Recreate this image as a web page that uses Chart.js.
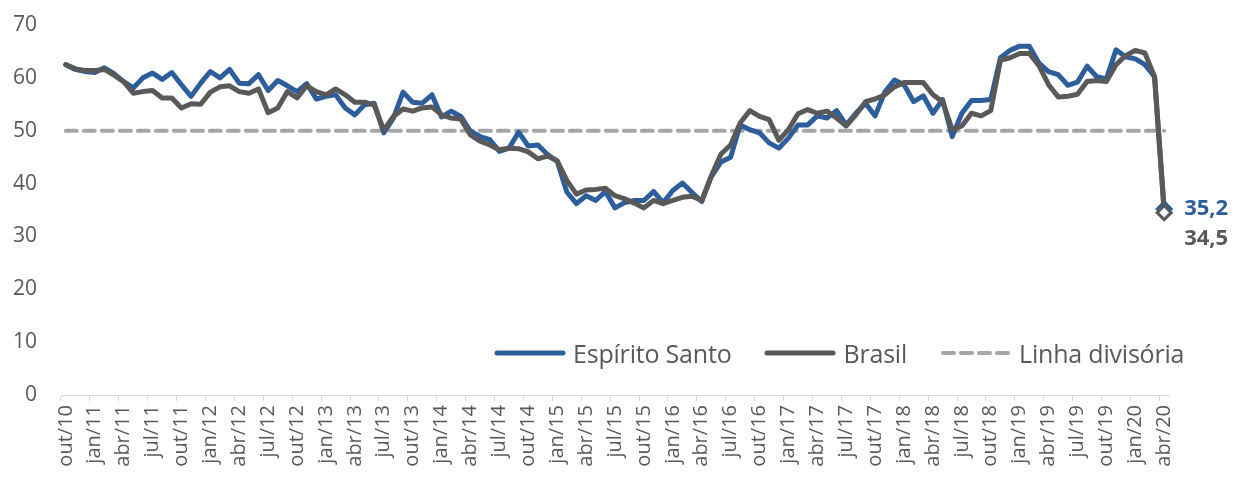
<!DOCTYPE html>
<html>
<head>
<meta charset="utf-8">
<script src="https://cdn.jsdelivr.net/npm/chart.js@4"></script>
<style>
  body { margin: 0; background: #fff; font-family: "Open Sans", sans-serif; }
  #wrap { position: relative; width: 1235px; height: 480px; }
  #legend { position: absolute; left: 494px; top: 336px; display: flex; align-items: center; color: #595959; font-size: 25px; white-space: nowrap; letter-spacing: -0.2px; }
  #legend .item { display: flex; align-items: center; margin-right: 33px; }
  #legend svg { margin-right: 7px; }
</style>
</head>
<body>
<div id="wrap">
  <canvas id="c" width="1235" height="480"></canvas>
  <div id="legend"></div>
</div>
<script>
// meses out/10 .. abr/20
const monthNames = ['jan','fev','mar','abr','mai','jun','jul','ago','set','out','nov','dez'];
const labels = [];
for (let y = 2010, m = 9; y < 2020 || m <= 3; ) {
  labels.push(monthNames[m] + '/' + String(y).slice(2));
  m++; if (m == 12) { m = 0; y++; }
}

const espiritoSanto = [
  62.5, 61.6, 61.2, 61.0, 61.9, 60.8, 59.3, 58.1, 60.0, 60.9, 59.7, 61.0,
  58.7, 56.5, 59.0, 61.2, 60.0, 61.6, 59.0, 58.9, 60.6, 57.6, 59.5, 58.5,
  57.4, 58.9, 56.0, 56.5, 56.8, 54.3, 53.0, 54.9, 55.2, 49.6, 52.4, 57.3,
  55.4, 55.2, 56.8, 52.6, 53.7, 52.7, 49.9, 48.9, 48.3, 46.1, 46.7, 49.7,
  47.1, 47.3, 45.5, 44.2, 38.4, 36.2, 37.7, 36.8, 38.5, 35.4, 36.4, 36.8,
  36.8, 38.5, 36.4, 38.7, 40.1, 38.3, 36.6, 41.3, 44.1, 45.0, 51.1, 50.2,
  49.6, 47.7, 46.7, 48.6, 51.1, 51.1, 52.8, 52.4, 53.8, 51.1, 53.3, 55.2,
  52.8, 57.3, 59.6, 58.7, 55.5, 56.6, 53.3, 55.9, 48.9, 53.3, 55.7, 55.7,
  55.9, 63.8, 65.2, 66.0, 66.0, 62.8, 61.2, 60.6, 58.6, 59.2, 62.2, 60.2,
  59.8, 65.3, 64.0, 63.6, 62.5, 60.2, 35.2
];

const brasil = [
  62.5, 61.7, 61.4, 61.4, 61.6, 60.5, 59.3, 57.1, 57.4, 57.6, 56.2, 56.2,
  54.3, 55.1, 55.0, 57.3, 58.3, 58.5, 57.4, 57.1, 57.9, 53.4, 54.3, 57.4,
  56.2, 58.5, 57.4, 56.8, 57.9, 56.8, 55.4, 55.4, 54.9, 50.1, 52.7, 54.1,
  53.7, 54.3, 54.5, 53.0, 52.4, 52.2, 49.2, 48.0, 47.3, 46.4, 46.7, 46.6,
  46.0, 44.7, 45.2, 44.3, 40.6, 38.0, 38.8, 38.9, 39.1, 37.7, 37.1, 36.3,
  35.4, 36.8, 36.2, 36.8, 37.4, 37.6, 36.8, 41.5, 45.6, 47.3, 51.5, 53.8,
  52.7, 52.1, 48.2, 50.2, 53.2, 54.0, 53.3, 53.7, 52.4, 50.9, 53.0, 55.5,
  56.0, 56.8, 58.3, 59.1, 59.1, 59.1, 56.8, 55.5, 50.2, 50.9, 53.3, 52.8,
  53.8, 63.3, 63.8, 64.6, 64.6, 62.3, 58.7, 56.4, 56.5, 56.9, 59.3, 59.5,
  59.3, 62.5, 64.2, 65.2, 64.7, 60.2, 34.5
];

const divisoria = 50;
const yTicks = [0, 10, 20, 30, 40, 50, 60, 70];

const BLUE = '#2D5E9C', GRAY = '#595959', DASH = '#A6A6A6', TXT = '#595959';
const last = labels.length - 1;

const endLabels = {
  id: 'endLabels',
  afterDatasetsDraw(chart) {
    const ctx = chart.ctx;
    const es = chart.getDatasetMeta(0).data[last];
    const br = chart.getDatasetMeta(1).data[last];
    ctx.save();
    ctx.font = 'bold 22px "Open Sans"';
    ctx.textBaseline = 'middle';
    ctx.textAlign = 'left';
    ctx.fillStyle = BLUE;
    ctx.fillText(espiritoSanto[last].toFixed(1).replace('.', ','), es.x + 20, es.y);
    ctx.fillStyle = GRAY;
    ctx.fillText(brasil[last].toFixed(1).replace('.', ','), br.x + 20, br.y + 26);
    ctx.restore();
  }
};

const lastPoint = c => c.dataIndex === last ? 7 : 0;

const chart = new Chart(document.getElementById('c'), {
  type: 'line',
  data: {
    labels: labels,
    datasets: [
      { label: 'Espírito Santo', data: espiritoSanto, borderColor: BLUE, borderWidth: 5,
        pointRadius: lastPoint, pointStyle: 'rectRot', pointBackgroundColor: '#fff',
        pointBorderColor: BLUE, pointBorderWidth: 3, order: 2 },
      { label: 'Brasil', data: brasil, borderColor: GRAY, borderWidth: 5,
        pointRadius: lastPoint, pointStyle: 'rectRot', pointBackgroundColor: '#fff',
        pointBorderColor: GRAY, pointBorderWidth: 3, order: 1 },
      { label: 'Linha divisória', data: labels.map(() => divisoria), borderColor: DASH,
        borderWidth: 4, borderDash: [11, 7], borderCapStyle: 'round', pointRadius: 0, order: 3 }
    ]
  },
  options: {
    responsive: false,
    animation: false,
    events: [],
    elements: { line: { tension: 0, borderJoinStyle: 'round', borderCapStyle: 'round' }, point: { hoverRadius: 0 } },
    layout: { padding: { top: 25, right: 66, left: 0, bottom: 0 } },
    plugins: { legend: { display: false }, tooltip: { enabled: false } },
    scales: {
      x: {
        offset: true,
        afterFit: s => { s.height = 85; },
        border: { color: '#D9D9D9', width: 1 },
        grid: {
          offset: true, drawOnChartArea: false, drawTicks: true, tickLength: 6,
          color: c => c.index % 3 === 0 ? '#D9D9D9' : 'rgba(0,0,0,0)'
        },
        ticks: {
          autoSkip: false, minRotation: 90, maxRotation: 90, padding: 4,
          color: TXT, font: { family: 'Open Sans', size: 20 },
          callback: (v, i) => i % 3 === 0 ? labels[i] : ''
        }
      },
      y: {
        min: 0, max: 70,
        afterFit: s => { s.width = 61; s.paddingTop = 0; s.paddingBottom = 0; },
        afterBuildTicks: s => { s.ticks = yTicks.map(v => ({ value: v })); },
        border: { display: false },
        grid: { display: false, drawTicks: false },
        ticks: { padding: 24, color: TXT, font: { family: 'Open Sans', size: 21 } }
      }
    }
  },
  plugins: [endLabels]
});

// legenda
const legendColors = [BLUE, GRAY, DASH];
const swatch = i => '<svg width="72" height="8"><line x1="3" y1="4" x2="69" y2="4" stroke="' + legendColors[i] +
  '" stroke-width="' + (i == 2 ? 4 : 5) + '" stroke-linecap="round"' + (i == 2 ? ' stroke-dasharray="11 7"' : '') + '/></svg>';
document.getElementById('legend').innerHTML = chart.data.datasets.map((d, i) =>
  '<div class="item">' + swatch(i) + d.label + '</div>'
).join('');
</script>
</body>
</html>
